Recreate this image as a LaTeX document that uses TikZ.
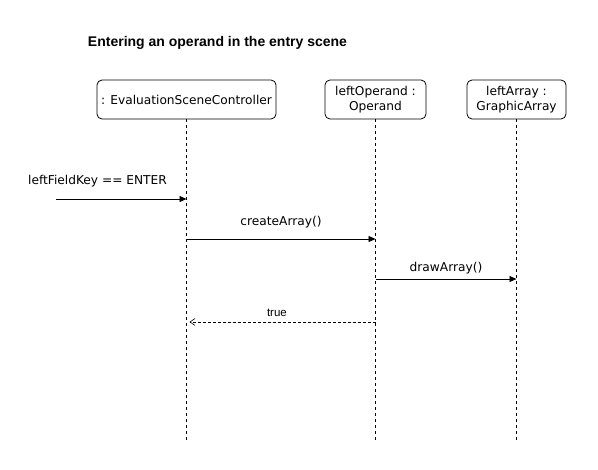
\documentclass[tikz,border=0pt]{standalone}
\usepackage{fontspec}
\setmainfont{DejaVu Sans}
\newfontfamily\titlefont{Liberation Sans}
\usetikzlibrary{arrows.meta}

\begin{document}
\begin{tikzpicture}[x=1pt, y=-1pt, thick, font=\fontsize{12.2}{14.3}\selectfont,
    obj/.style={draw, rounded corners=5pt, line width=0.8pt, minimum height=39pt, align=center, inner sep=1pt},
    life/.style={line width=0.8pt, dash pattern=on 3pt off 3pt},
    msg/.style={line width=0.8pt, -{Triangle[length=7pt,width=6pt]}},
    ret/.style={line width=0.6pt, dash pattern=on 3pt off 2pt, -{Straight Barb[length=5pt,width=7pt]}}]

    \useasboundingbox (0,0) rectangle (598,470);

    % Title
    \node (title) at (217.5, 43) [font=\titlefont\bfseries\fontsize{14}{16}\selectfont] {Entering an operand in the entry scene};

    % Node definitions
    \node (ctrl) at (186.5, 99.5) [obj, minimum width=179pt] {: EvaluationSceneController};
    \node (opnd) at (375.5, 99.5) [obj, minimum width=101pt] {leftOperand :\\Operand};
    \node (arr) at (516.5, 99.5) [obj, minimum width=99pt] {leftArray :\\GraphicArray};

    % Lifeline ends
    \coordinate (ctrlend) at (186.5, 440);
    \coordinate (opndend) at (375.5, 440);
    \coordinate (arrend) at (516.5, 440);
    \draw[life] (ctrl) -- (ctrlend);
    \draw[life] (opnd) -- (opndend);
    \draw[life] (arr) -- (arrend);

    % Message points
    \coordinate (start) at (56, 199);
    \coordinate (c1) at (186.5, 199);
    \coordinate (c2) at (186.5, 239);
    \coordinate (o2) at (375.5, 239);
    \coordinate (o3) at (375.5, 279);
    \coordinate (a3) at (516.5, 279);
    \coordinate (o4) at (375.5, 322);
    \coordinate (c4) at (189.5, 322);

    % Messages
    \draw[msg] (start) -- (c1);
    \node (key) at (97.5, 181) {leftFieldKey == ENTER};
    \draw[msg] (c2) -- (o2) node[midway, above=7pt] {createArray()};
    \draw[msg] (o3) -- (a3) node[midway, above=1pt] {drawArray()};
    \draw[ret] (o4) -- (c4) node[pos=0.53, above=2pt, font=\titlefont\fontsize{11.5}{13}\selectfont] {true};
\end{tikzpicture}
\end{document}
